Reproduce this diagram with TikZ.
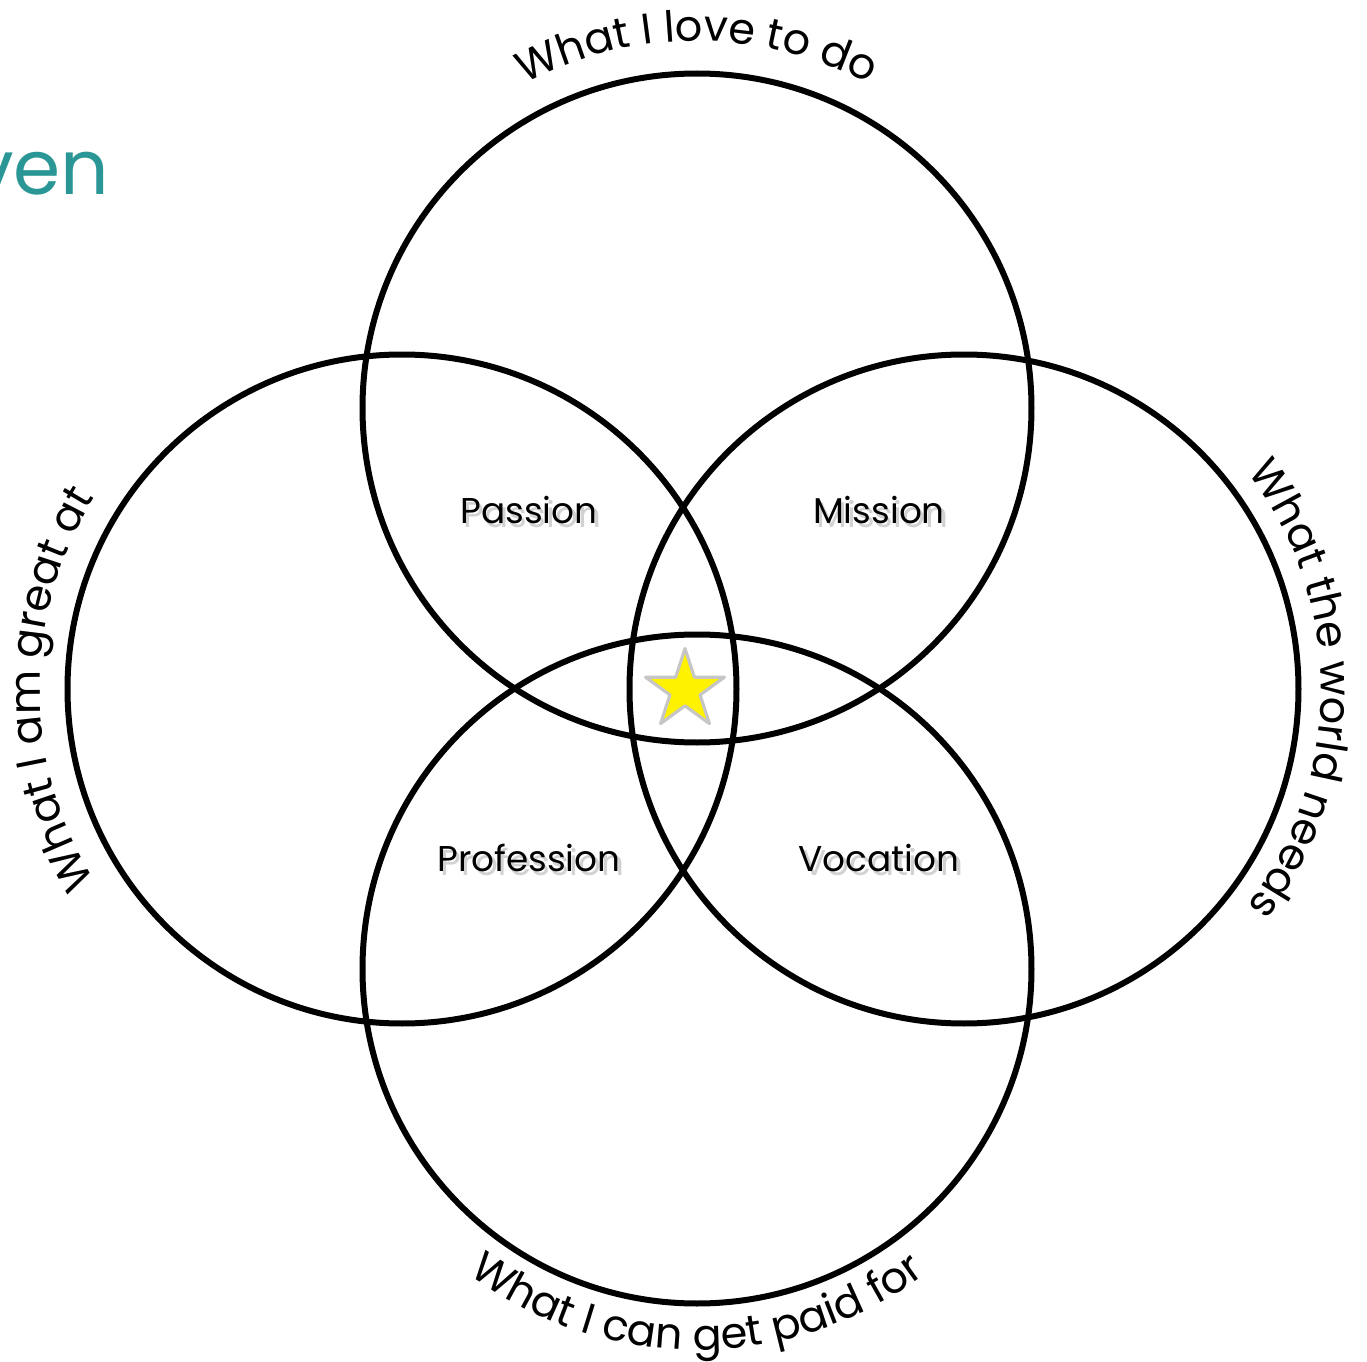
\documentclass[tikz,border=0pt]{standalone}
\usepackage{fontspec}
\setmainfont{Poppins}
\usepackage{xcolor}
\usepackage{tikz}
\usetikzlibrary{positioning, shapes.geometric, decorations.text}
\definecolor{titleteal}{HTML}{2A9696}
\newcommand{\rimfont}{\fontsize{12.2}{14}\selectfont}
\newcommand{\areafont}{\fontsize{10.2}{12}\selectfont}
\newcommand{\lblshadow}[1]{\rlap{\hspace{0.35mm}\raisebox{-0.35mm}{\color{gray!35}#1}}#1}
\tikzset{%
	ring/.style={draw, circle, line width=0.6mm, minimum size=6.69cm, inner sep=0mm},
	area/.style={font=\areafont, inner sep=0mm},
	spot/.style={star, star points=5, star point ratio=2.618, minimum size=8.3mm,%
		inner sep=0mm, fill=yellow, draw=gray!45, line width=0.9pt, line join=round},
	rim/.style={decorate, decoration={text along path, text align=center, text={|\rimfont|#1}}},
	rimshadow/.style={decorate, transform canvas={xshift=0.35mm, yshift=-0.35mm},%
		decoration={text along path, text align=center, text color=gray!35, text={|\rimfont|#1}}}
}

\begin{document}
\begin{tikzpicture}
	\useasboundingbox (0,0) rectangle (13.67,13.61);

	\node[ring] (love)  at (6.97,9.53) {};
	\node[ring] (great) at (4.02,6.72) {};
	\node[ring] (needs) at (9.64,6.72) {};
	\node[ring] (paid)  at (6.97,3.92) {};

	\node[area] (passion)    at (5.29,8.49) {\lblshadow{Passion}};
	\node[area] (mission)    at (8.79,8.49) {\lblshadow{Mission}};
	\node[area] (profession) at (5.29,5.01) {\lblshadow{Profession}};
	\node[area] (vocation)   at (8.79,5.01) {\lblshadow{Vocation}};

	\node[spot] (ikigai) at (6.85,6.71) {};

	\node[anchor=base east, inner sep=0mm, font=\fontsize{21.6}{24}\selectfont, text=titleteal] (title) at (1.10,11.66) {ven};

	\path[rimshadow={What I love to do}] (love.center) ++(175:3.67) arc[start angle=175, end angle=5, radius=3.67];
	\path[rim={What I love to do}] (love.center) ++(175:3.67) arc[start angle=175, end angle=5, radius=3.67];
	\path[rimshadow={What I am great at}] (great.center) ++(265:3.62) arc[start angle=265, end angle=95, radius=3.62];
	\path[rim={What I am great at}] (great.center) ++(265:3.62) arc[start angle=265, end angle=95, radius=3.62];
	\path[rimshadow={What the world needs}] (needs.center) ++(85:3.57) arc[start angle=85, end angle=-85, radius=3.57];
	\path[rim={What the world needs}] (needs.center) ++(85:3.57) arc[start angle=85, end angle=-85, radius=3.57];
	\path[rimshadow={What I can get paid for}] (paid.center) ++(185:3.81) arc[start angle=185, end angle=355, radius=3.81];
	\path[rim={What I can get paid for}] (paid.center) ++(185:3.81) arc[start angle=185, end angle=355, radius=3.81];
\end{tikzpicture}
\end{document}
